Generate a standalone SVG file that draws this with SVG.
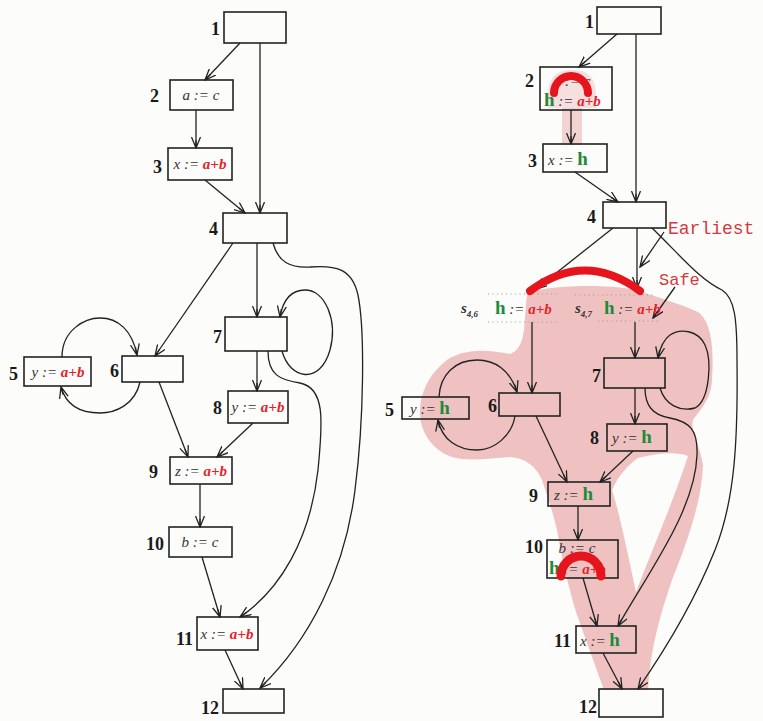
<svg xmlns="http://www.w3.org/2000/svg" width="763" height="721" viewBox="0 0 763 721">
  <defs>
    <marker id="arr" markerUnits="userSpaceOnUse" markerWidth="12" markerHeight="10" refX="11" refY="5" orient="auto">
      <path d="M0,0.5 L11,5 L0,9.5 M3,5 L11,5" fill="none" stroke="#222" stroke-width="1.3"/>
    </marker>
    <style>
      .bg { fill: #fcfcfa; }
      .node { fill: none; stroke: #222; stroke-width: 1.6; }
      .lbl { font-family: "Liberation Serif", serif; font-weight: bold; font-size: 18px; fill: #1a1a1a; text-anchor: end; }
      .code { font-family: "Liberation Serif", serif; font-style: italic; font-size: 15px; fill: #333; }
      .mid { text-anchor: middle; }
      .r { fill: #e3222b; font-weight: bold; }
      .h { fill: #1d8a3c; font-weight: bold; font-style: normal; font-size: 19px; }
      .edge { fill: none; stroke: #222; stroke-width: 1.3; marker-end: url(#arr); }
      .dots { fill: none; stroke: #9a9a9a; stroke-width: 1.2; stroke-dasharray: 1 3.5; }
      .hot { fill: none; stroke: #e6141c; stroke-linecap: round; }
      .note { font-family: "Liberation Mono", monospace; fill: #d33a42; }
      .pink { fill: #efc2c1; }
    </style>
  </defs>

  <rect class="bg" x="0" y="0" width="763" height="721"/>

  <!-- highlighted region of the transformed graph -->
  <g id="region">
    <path class="pink" fill-rule="evenodd" d="M528,292 C560,284 620,284 642,292 C660,298 680,304 698,312 C712,322 714,350 712,380 C711,400 700,410 693,420 C690,432 700,445 703,465 C702,500 688,540 672,580 C660,615 650,650 648,690 L604,690 C596,668 586,640 576,612 C568,585 562,560 558,535 C554,515 548,498 542,480 C536,466 525,458 510,457 C490,458 470,462 452,457 C432,450 420,432 420,412 C420,390 432,370 450,358 C468,348 490,350 510,354 C522,350 524,335 525,318 C526,305 526,298 528,292 Z M638,458 C660,452 678,452 688,456 C672,505 652,550 636,592 C628,555 620,515 612,490 C618,476 628,465 638,458 Z"/>
    <rect class="pink" x="562" y="108" width="20" height="37" opacity="0.7"/>
    <path class="pink" opacity="0.5" d="M548,96 C548,74 560,70 572,70 C585,70 596,74 596,96 L596,108 L548,108 Z"/>
  </g>

  <!-- connectors -->
  <g id="connectors">
    <!-- original program -->
    <path class="edge" d="M240,43 L205,80"/>
    <path class="edge" d="M260,43 L260,213"/>
    <path class="edge" d="M196,110 L196,148"/>
    <path class="edge" d="M205,180 L245,213"/>
    <path class="edge" d="M233,243 L155,356"/>
    <path class="edge" d="M257,243 L257,317"/>
    <path class="edge" d="M273,243 C278,262 290,268 310,267 C335,265 352,268 358,295 C365,330 364,420 355,490 C345,570 310,640 260,688"/>
    <path class="edge" d="M282,351 C290,380 320,385 330,350 C338,320 325,290 305,290 C290,290 283,300 280,317"/>
    <path class="edge" d="M268,351 C268,375 280,380 300,383 C325,388 323,420 318,470 C310,540 280,590 240,617"/>
    <path class="edge" d="M257,351 L257,391"/>
    <path class="edge" d="M253,423 L217,457"/>
    <path class="edge" d="M159,382 L188,457"/>
    <path class="edge" d="M62,357 C62,330 85,318 100,318 C118,318 132,330 137,355"/>
    <path class="edge" d="M140,382 C135,405 115,413 100,413 C80,413 66,405 61,387"/>
    <path class="edge" d="M200,484 L200,527"/>
    <path class="edge" d="M202,557 L220,617"/>
    <path class="edge" d="M225,650 L243,689"/>

    <!-- transformed program -->
    <path class="edge" d="M617,34 L579,67"/>
    <path class="edge" d="M636,34 L636,202"/>
    <path class="edge" d="M571,110 L571,144"/>
    <path class="edge" d="M575,172 L618,202"/>
    <path class="edge" d="M613,228 L536,289"/>
    <path class="edge" d="M637,228 L637,288"/>
    <path class="edge" d="M652,228 C680,255 700,280 722,290 C735,298 737,320 737,360 C738,440 735,500 715,550 C695,600 665,650 638,689"/>
    <path class="edge" d="M532,322 L532,393"/>
    <path class="edge" d="M635,322 L635,358"/>
    <path class="edge" d="M635,388 L635,424"/>
    <path class="edge" d="M660,388 C665,405 680,412 695,408 C710,400 712,360 705,345 C698,330 680,328 670,335 C663,340 660,348 658,358"/>
    <path class="edge" d="M645,388 C645,405 652,415 670,418 C690,422 698,430 697,455 C695,510 650,570 618,626"/>
    <path class="edge" d="M633,451 L600,482"/>
    <path class="edge" d="M536,416 L567,482"/>
    <path class="edge" d="M439,397 C440,375 455,360 477,360 C495,360 510,370 517,392"/>
    <path class="edge" d="M515,416 C512,435 495,450 477,450 C458,450 442,440 438,420"/>
    <path class="edge" d="M578,506 L578,540"/>
    <path class="edge" d="M583,578 L597,626"/>
    <path class="edge" d="M603,653 L622,689"/>

    <!-- annotation pointers -->
    <path class="edge" d="M664,232 L640,267"/>
    <path class="edge" d="M675,287 L653,318"/>
  </g>

  <!-- original program nodes -->
  <g id="a1"><rect class="node" x="224" y="12" width="62" height="31"/><text class="lbl" x="220" y="35">1</text></g>
  <g id="a2"><rect class="node" x="170" y="80" width="63" height="30"/><text class="lbl" x="159" y="102">2</text>
    <text class="code mid" x="201" y="100">a := c</text></g>
  <g id="a3"><rect class="node" x="168" y="148" width="64" height="32"/><text class="lbl" x="162" y="173">3</text>
    <text class="code mid" x="200" y="169">x := <tspan class="r">a+b</tspan></text></g>
  <g id="a4"><rect class="node" x="223" y="213" width="64" height="30"/><text class="lbl" x="218" y="235">4</text></g>
  <g id="a5"><rect class="node" x="24" y="357" width="67" height="29"/><text class="lbl" x="18" y="380">5</text>
    <text class="code mid" x="58" y="377">y := <tspan class="r">a+b</tspan></text></g>
  <g id="a6"><rect class="node" x="122" y="356" width="61" height="26"/><text class="lbl" x="119" y="377">6</text></g>
  <g id="a7"><rect class="node" x="225" y="317" width="62" height="34"/><text class="lbl" x="222" y="343">7</text></g>
  <g id="a8"><rect class="node" x="228" y="391" width="60" height="32"/><text class="lbl" x="222" y="414">8</text>
    <text class="code mid" x="258" y="412">y := <tspan class="r">a+b</tspan></text></g>
  <g id="a9"><rect class="node" x="170" y="457" width="62" height="27"/><text class="lbl" x="158" y="478">9</text>
    <text class="code mid" x="201" y="476">z := <tspan class="r">a+b</tspan></text></g>
  <g id="a10"><rect class="node" x="169" y="527" width="63" height="30"/><text class="lbl" x="164" y="550">10</text>
    <text class="code mid" x="200" y="547">b := c</text></g>
  <g id="a11"><rect class="node" x="197" y="617" width="61" height="33"/><text class="lbl" x="193" y="645">11</text>
    <text class="code mid" x="227" y="639">x := <tspan class="r">a+b</tspan></text></g>
  <g id="a12"><rect class="node" x="223" y="689" width="61" height="24"/><text class="lbl" x="219" y="714">12</text></g>

  <!-- transformed program nodes -->
  <g id="b1"><rect class="node" x="597" y="7" width="64" height="27"/><text class="lbl" x="594" y="28">1</text></g>
  <g id="b2"><rect class="node" x="540" y="67" width="72" height="43"/><text class="lbl" x="534" y="87">2</text>
    <text class="code mid" x="572" y="86" font-size="13">a := c</text>
    <path class="hot" d="M554,93 A17,17 0 0 1 588,93" stroke-width="8"/>
    <text class="code" x="544" y="106"><tspan class="h">h</tspan> := <tspan class="r">a+b</tspan></text></g>
  <g id="b3"><rect class="node" x="543" y="144" width="64" height="28"/><text class="lbl" x="537" y="167">3</text>
    <text class="code" x="548" y="165">x := <tspan class="h">h</tspan></text></g>
  <g id="b4"><rect class="node" x="603" y="202" width="63" height="26"/><text class="lbl" x="596" y="223">4</text></g>
  <g id="b5"><rect class="node" x="402" y="397" width="67" height="22"/><text class="lbl" x="394" y="416">5</text>
    <text class="code" x="410" y="414">y := <tspan class="h">h</tspan></text></g>
  <g id="b6"><rect class="node" x="499" y="393" width="61" height="23"/><text class="lbl" x="497" y="412">6</text></g>
  <g id="b7"><rect class="node" x="604" y="358" width="61" height="30"/><text class="lbl" x="601" y="382">7</text></g>
  <g id="b8"><rect class="node" x="607" y="424" width="60" height="27"/><text class="lbl" x="599" y="444">8</text>
    <text class="code" x="612" y="443">y := <tspan class="h">h</tspan></text></g>
  <g id="b9"><rect class="node" x="548" y="482" width="62" height="24"/><text class="lbl" x="538" y="502">9</text>
    <text class="code" x="554" y="500">z := <tspan class="h">h</tspan></text></g>
  <g id="b10"><rect class="node" x="547" y="540" width="71" height="38"/><text class="lbl" x="543" y="553">10</text>
    <text class="code mid" x="577" y="553" font-size="12">b := c</text>
    <text class="code" x="549" y="574"><tspan class="h">h</tspan> := <tspan class="r">a+b</tspan></text>
    <path class="hot" d="M561,576 A20,20 0 0 1 601,576" stroke-width="9"/></g>
  <g id="b11"><rect class="node" x="576" y="626" width="60" height="27"/><text class="lbl" x="571" y="647">11</text>
    <text class="code" x="580" y="646">x := <tspan class="h">h</tspan></text></g>
  <g id="b12"><rect class="node" x="599" y="689" width="64" height="28"/><text class="lbl" x="597" y="713">12</text></g>

  <!-- insertion points on edges (4,6) and (4,7) -->
  <g id="s46">
    <path class="dots" d="M488,294 L560,294 M488,322 L560,322"/>
    <text class="code" x="461" y="313" font-style="normal" font-weight="bold" font-size="16">s<tspan font-size="9" dy="4">4,6</tspan></text>
    <text class="code" x="495" y="314"><tspan class="h">h</tspan> := <tspan class="r">a+b</tspan></text>
  </g>
  <g id="s47">
    <path class="dots" d="M575,295 L655,295 M598,321 L660,321"/>
    <text class="code" x="575" y="313" font-style="normal" font-weight="bold" font-size="16">s<tspan font-size="9" dy="4">4,7</tspan></text>
    <text class="code" x="604" y="314"><tspan class="h">h</tspan> := <tspan class="r">a+b</tspan></text>
  </g>

  <!-- earliest placement and annotations -->
  <g id="earliest">
    <path class="hot" d="M530,291 Q585,250 640,291" stroke-width="8"/>
    <text class="note" x="668" y="234" font-size="18">Earliest</text>
  </g>
  <g id="safe">
    <text class="note" x="659" y="285" font-size="17">Safe</text>
  </g>
</svg>
